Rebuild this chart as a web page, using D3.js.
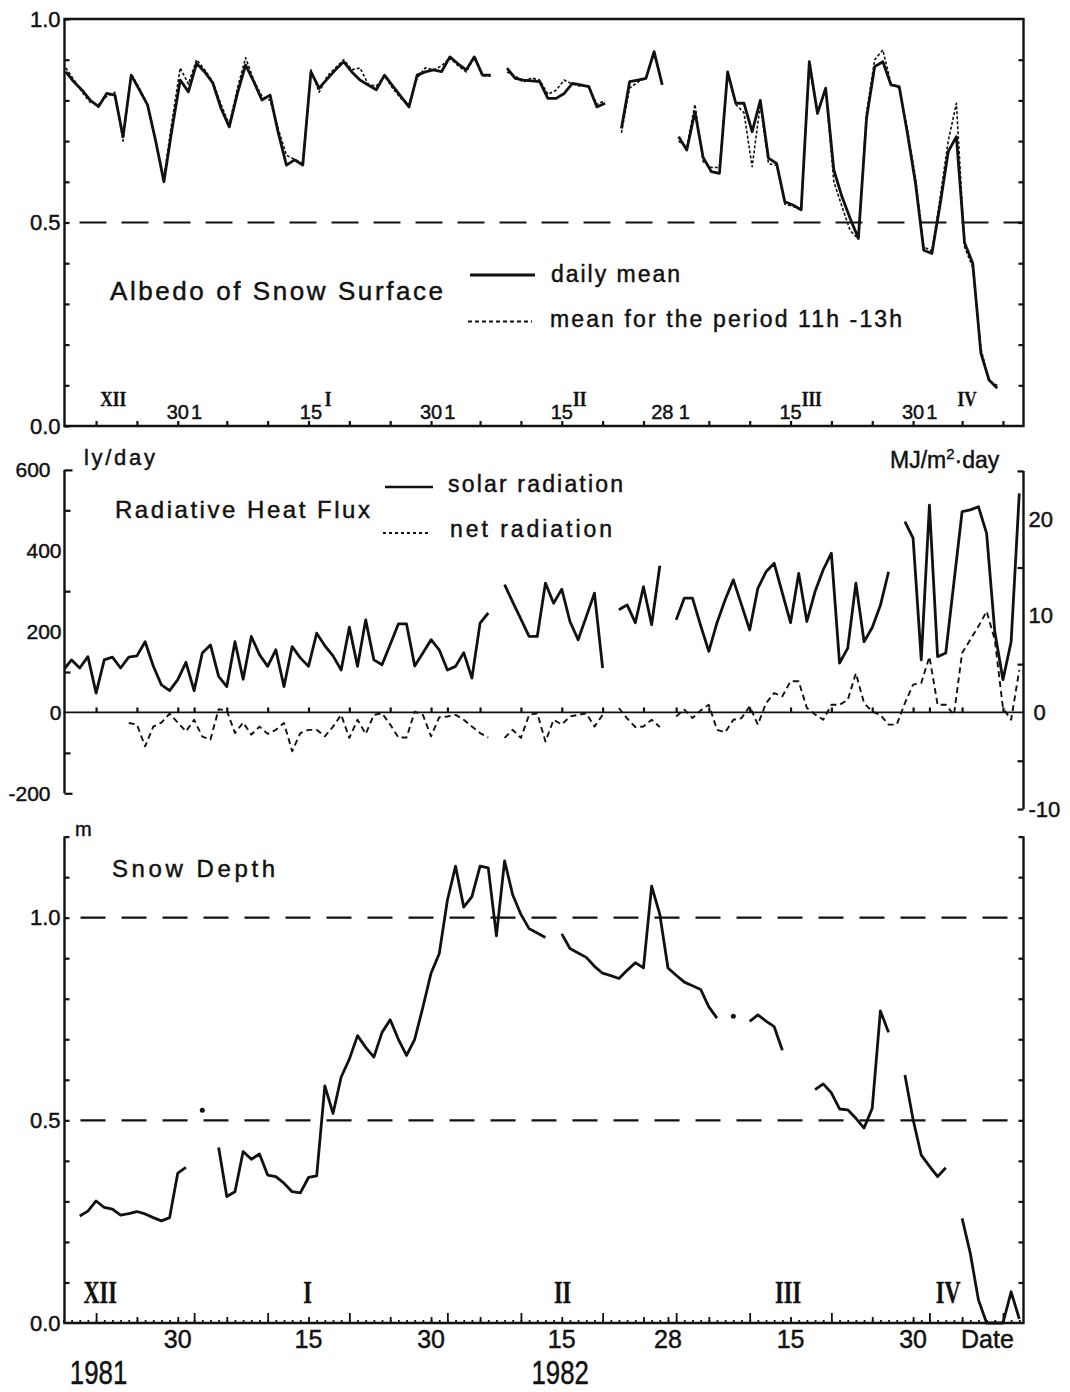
<!DOCTYPE html>
<html>
<head>
<meta charset="utf-8">
<script src="https://cdn.jsdelivr.net/npm/d3@7/dist/d3.min.js"></script>
<style>
  body { margin: 0; background: #fff; }
  svg text { font-family: "Liberation Sans", Arial, sans-serif; fill: #111; stroke: #111; stroke-width: 0.45px; }
  svg text.roman { font-family: "Liberation Serif", serif; font-weight: bold; stroke-width: 0.3px; }
</style>
</head>
<body>
<svg width="1070" height="1392"></svg>
<script>
// day numbers count from 1 Dec 1981 (= day 0); null = no record
var albedoStart = 15;
var albedoDaily = [0.87, 0.845, 0.825, 0.80, 0.785, 0.817, 0.813, 0.711, 0.862,
  0.826, 0.789, 0.70, 0.600, 0.73, 0.850, 0.821, 0.891, 0.87, 0.842,
  0.78, 0.735, 0.817, 0.887, 0.846, 0.801, 0.813, 0.72, 0.641, 0.654,
  0.641, 0.870, 0.83, 0.853, 0.875, 0.895, 0.87, 0.85, 0.838, 0.826,
  0.862, 0.836, 0.81, 0.784, 0.862, 0.87, 0.875, 0.871, 0.907, 0.89,
  0.875, 0.907, 0.862, 0.862, null, 0.879, 0.854, 0.85, 0.848, 0.846,
  0.805, 0.805, 0.817, 0.842, 0.838, 0.834, 0.784, 0.793, null, 0.731,
  0.846, 0.85, 0.854, 0.92, 0.838, null, 0.711, 0.678, 0.772, 0.66,
  0.625, 0.621, 0.87, 0.793, 0.793, 0.723, 0.80, 0.658, 0.645, 0.551,
  0.543, 0.531, 0.895, 0.768, 0.83, 0.629, 0.563, 0.51, 0.461, 0.756,
  0.883, 0.895, 0.838, 0.834, 0.72, 0.596, 0.432, 0.424, 0.543, 0.674,
  0.711, 0.45, 0.40, 0.179, 0.113, 0.093];
var albedoNoon = [0.88, 0.85, 0.82, 0.795, 0.79, 0.81, 0.82, 0.70, 0.865,
  0.83, 0.79, 0.70, 0.61, 0.75, 0.88, 0.84, 0.90, 0.875, 0.845,
  0.79, 0.74, 0.83, 0.905, 0.85, 0.81, 0.80, 0.73, 0.665, 0.655,
  0.645, 0.875, 0.82, 0.86, 0.88, 0.90, 0.875, 0.88, 0.84, 0.835,
  0.86, 0.83, 0.805, 0.79, 0.855, 0.88, 0.875, 0.885, 0.905, 0.885,
  0.87, 0.905, 0.86, 0.86, null, 0.87, 0.86, 0.845, 0.855, 0.85,
  0.815, 0.825, 0.85, 0.84, 0.835, 0.835, 0.79, 0.80, null, 0.72,
  0.83, 0.845, 0.855, 0.915, 0.84, null, 0.70, 0.685, 0.79, 0.65,
  0.635, 0.635, 0.865, 0.79, 0.77, 0.637, 0.79, 0.645, 0.64, 0.545,
  0.54, 0.53, 0.885, 0.77, 0.825, 0.60, 0.539, 0.48, 0.46, 0.77,
  0.90, 0.924, 0.84, 0.83, 0.73, 0.61, 0.44, 0.43, 0.56, 0.70,
  0.793, 0.44, 0.39, 0.19, 0.11, 0.10];

var solarStart = 15;   // ly/day
var solarRad = [105, 130, 110, 138, 48, 130, 137, 110, 137, 140,
  175, 115, 68, 54, 81, 124, 54, 147, 167, 89,
  64, 175, 82, 188, 143, 114, 155, 64, 163, 135,
  114, 196, 165, 140, 105, 211, 114, 229, 130, 118,
  168, 219, 219, 115, 147, 180, 155, 105, 114, 148,
  85, 221, 246, null, 316, 273, 231, 188, 188, 320,
  270, 305, 225, 180, 237, 295, 110, null, 254, 266,
  222, 311, 217, 363, null, 229, 283, 283, 215, 151,
  222, 279, 328, 266, 204, 307, 348, 369, 295, 222,
  344, 225, 299, 353, 394, 122, 159, 320, 175, 210,
  265, 348, null, 472, 431, 130, 513, 138, 147, 322,
  497, 501, 509, 443, 200, 81, 175, 542];
var netStart = 23;
var netRad = [-26, -30, -84, -35, -25, -3, -25, -47, -18, -60,
  -67, 8, 5, -51, -25, -55, -35, -53, -43, -26,
  -96, -51, -43, -43, -59, -35, -6, -63, -18, -53,
  -6, -2, -30, -62, -62, 2, -6, -59, -12, -10,
  -6, -18, -35, -51, -62, null, -63, -43, -63, -6,
  -2, -72, -18, -30, -10, -6, -2, -35, -6, null,
  11, -15, -36, -35, -18, -36, null, -10, 7, -14,
  5, 19, -43, -49, -18, -14, 15, -30, 23, 48,
  40, 77, 77, 11, -5, -18, 19, 19, 31, 97,
  23, 2, -6, -30, -30, 23, 69, 73, 138, 19,
  19, -6, 147, 180, 213, 250, 180, 11, -18, 105];

var depthStart = 17;   // m
var snowDepth = [0.264, 0.276, 0.301, 0.285, 0.281, 0.266, 0.27, 0.275, 0.269, 0.26,
  0.252, 0.26, 0.37, 0.384, null, 0.525, null, 0.433, 0.312, 0.324,
  0.423, 0.404, 0.417, 0.365, 0.361, 0.345, 0.324, 0.321, 0.359, 0.363,
  0.585, 0.517, 0.607, 0.651, 0.709, 0.68, 0.656, 0.717, 0.748, 0.70,
  0.66, 0.70, 0.779, 0.863, 0.911, 1.043, 1.127, 1.026, 1.052, 1.127,
  1.123, 0.955, 1.14, 1.056, 1.008, 0.973, 0.962, 0.951, null, 0.96,
  0.924, 0.913, 0.902, 0.88, 0.863, 0.857, 0.85, 0.87, 0.889, 0.876,
  1.078, 1.008, 0.876, 0.858, 0.841, 0.832, 0.823, 0.78, 0.752, null,
  0.757, null, 0.744, 0.76, 0.745, 0.731, 0.673, null, null, null,
  0.576, 0.59, 0.568, 0.528, 0.526, 0.505, 0.481, 0.53, 0.77, 0.717,
  null, 0.612, 0.502, 0.414, 0.387, 0.361, 0.383, null, 0.258, 0.172,
  0.057, 0.0, 0.0, 0.0, 0.077, 0.01];

// axis labels: [day, text]
var topDayLabels = [[29, "30"], [31.3, "1"], [45.3, "15"], [60, "30"], [62.3, "1"],
  [76, "15"], [88.3, "28"], [91, "1"], [104, "15"], [119, "30"], [121.3, "1"]];
var topMonths = [[21.1, "XII"], [47.4, "I"], [78.2, "II"], [106.6, "III"], [125.6, "IV"]];
var bottomDayLabels = [[29, "30"], [45, "15"], [60, "30"], [76, "15"], [89, "28"], [104, "15"], [119, "30"]];
var bottomMonths = [[19.5, "XII"], [44.9, "I"], [76.1, "II"], [103.7, "III"], [123.3, "IV"]];
var years = [[19.3, "1981"], [75.8, "1982"]];

var LY_TO_MJ = 0.04184;
var ink = "#111";
var svg = d3.select("svg");
var origin = Date.UTC(1981, 11, 1);
function dayDate(t) { return new Date(origin + t * 864e5); }

var x = d3.scaleUtc().domain([dayDate(15), dayDate(132.6)]).range([63.4, 1024.2]);
var left = 64.5, right = 1023.5;

var yA = d3.scaleLinear().domain([0, 1]).range([426, 19]);
var yR = d3.scaleLinear().domain([-200, 600]).range([793.3, 469.9]);
var yMJ = d3.scaleLinear().domain([-200 * LY_TO_MJ, 600 * LY_TO_MJ]).range([793.3, 469.9]);
var yD = d3.scaleLinear().domain([0, 1.2]).range([1323, 836.6]);

var allDays = d3.utcDay.range(dayDate(15), dayDate(133));
var fiveDays = allDays.filter(function(d) { var m = d.getUTCDate(); return m % 5 === 0; });
var midTicks = allDays.filter(function(d) { var m = d.getUTCDate(); return m % 5 === 0 || m === 1; });

function clean(g) {
  g.select(".domain").remove();
  g.selectAll("line").attr("stroke", ink).attr("stroke-width", 2.2);
  g.attr("font-family", null);
  return g;
}

function series(g, start, values, y, shift, width, dash) {
  var pts = values.map(function(v, i) { return {t: start + i + shift, v: v}; });
  var line = d3.line()
    .defined(function(d) { return d.v !== null; })
    .x(function(d) { return x(dayDate(d.t)); })
    .y(function(d) { return y(d.v); });
  var p = g.append("path").datum(pts).attr("d", line)
    .attr("fill", "none").attr("stroke", ink).attr("stroke-width", width)
    .attr("stroke-linejoin", "round");
  if (dash) p.attr("stroke-dasharray", dash);
  // single readings without neighbours show up as dots
  var lone = pts.filter(function(d, i) {
    return d.v !== null && (!pts[i - 1] || pts[i - 1].v === null) && (!pts[i + 1] || pts[i + 1].v === null);
  });
  g.selectAll(null).data(lone).enter().append("circle")
    .attr("cx", function(d) { return x(dayDate(d.t)); })
    .attr("cy", function(d) { return y(d.v); })
    .attr("r", 2.5).attr("fill", ink);
}

function addText(g, txt, px, py, size, len) {
  var t = g.append("text").attr("x", px).attr("y", py).attr("font-size", size).text(txt);
  if (len) t.attr("textLength", len).attr("lengthAdjust", "spacing");
  return t;
}

function clipRect(id, y0, y1) {
  svg.append("clipPath").attr("id", id).append("rect")
    .attr("x", left).attr("y", y0).attr("width", right - left).attr("height", y1 - y0);
}
clipRect("clipA", yA(1) - 10, yA(0));
clipRect("clipR", 440, 830);
clipRect("clipD", yD(1.2) - 10, yD(0) + 2);

// ---------- albedo ----------
var gA = svg.append("g");
gA.append("path")
  .attr("d", "M" + left + "," + yA(1) + "H" + right + "V" + yA(0) + "H" + left + "Z")
  .attr("fill", "none").attr("stroke", ink).attr("stroke-width", 2.4);
gA.append("line").attr("x1", left).attr("x2", right).attr("y1", yA(0.5)).attr("y2", yA(0.5))
  .attr("stroke", ink).attr("stroke-width", 2.2).attr("stroke-dasharray", "27,15").attr("stroke-dashoffset", 27);

clean(gA.append("g").attr("transform", "translate(" + left + ",0)")
  .call(d3.axisLeft(yA).tickValues(d3.range(0, 1.01, 0.1)).tickSizeInner(-5).tickSizeOuter(0).tickFormat("")));
clean(gA.append("g").attr("transform", "translate(" + right + ",0)")
  .call(d3.axisRight(yA).tickValues(d3.range(0.1, 1, 0.1)).tickSizeInner(-5).tickSizeOuter(0).tickFormat("")));
clean(gA.append("g").attr("transform", "translate(" + (left - 1) + ",0)")
  .call(d3.axisLeft(yA).tickValues([0, 0.5, 1]).tickSize(0).tickPadding(3).tickFormat(d3.format(".1f"))))
  .attr("font-size", 22);
clean(gA.append("g").attr("transform", "translate(0," + yA(0) + ")")
  .call(d3.axisBottom(x).tickValues(fiveDays).tickSizeInner(-5).tickSizeOuter(0).tickFormat("")));

gA.selectAll(".dlab").data(topDayLabels).enter().append("text")
  .attr("x", function(d) { return x(dayDate(d[0])); }).attr("y", 419)
  .attr("text-anchor", "middle").attr("font-size", 20).text(function(d) { return d[1]; });
gA.selectAll(".mlab").data(topMonths).enter().append("text").attr("class", "roman")
  .attr("transform", function(d) { return "translate(" + x(dayDate(d[0])) + ",406) scale(0.82,1)"; })
  .attr("text-anchor", "middle").attr("font-size", 21).text(function(d) { return d[1]; });

var gAl = gA.append("g").attr("clip-path", "url(#clipA)");
series(gAl, albedoStart, albedoNoon, yA, 0.3, 1.6, "3,2");
series(gAl, albedoStart, albedoDaily, yA, 0.3, 2.8);

addText(gA, "Albedo of Snow Surface", 110, 300, 26, 333);
gA.append("line").attr("x1", 470).attr("x2", 535).attr("y1", 275).attr("y2", 275)
  .attr("stroke", ink).attr("stroke-width", 2.8);
addText(gA, "daily mean", 551, 282, 23, 129);
gA.append("line").attr("x1", 468).attr("x2", 532).attr("y1", 321.5).attr("y2", 321.5)
  .attr("stroke", ink).attr("stroke-width", 1.8).attr("stroke-dasharray", "4,3");
addText(gA, "mean for the period  11h -13h", 550, 327, 23, 352);

// ---------- radiation ----------
var gR = svg.append("g");
gR.append("line").attr("x1", left).attr("x2", left).attr("y1", yR(600)).attr("y2", yR(-200))
  .attr("stroke", ink).attr("stroke-width", 2.4);
gR.append("line").attr("x1", right).attr("x2", right).attr("y1", yMJ(25)).attr("y2", yMJ(-10))
  .attr("stroke", ink).attr("stroke-width", 2.4);
gR.append("line").attr("x1", left).attr("x2", right).attr("y1", yR(0)).attr("y2", yR(0))
  .attr("stroke", ink).attr("stroke-width", 1.8);

clean(gR.append("g").attr("transform", "translate(" + left + ",0)")
  .call(d3.axisLeft(yR).tickValues([500, 300, 100, -100]).tickSizeInner(-6).tickSizeOuter(0).tickFormat("")));
clean(gR.append("g").attr("transform", "translate(" + left + ",0)")
  .call(d3.axisLeft(yR).tickValues([600, -200]).tickSizeInner(-8).tickSizeOuter(0).tickPadding(14).tickFormat(d3.format("d"))))
  .attr("font-size", 21);
clean(gR.append("g").attr("transform", "translate(" + (left - 2) + ",0)")
  .call(d3.axisLeft(yR).tickValues([400, 200, 0]).tickSize(0).tickPadding(1).tickFormat(d3.format("d"))))
  .attr("font-size", 21);
gR.selectAll("text").text(function() { return this.textContent.replace("\u2212", "-"); });

clean(gR.append("g").attr("transform", "translate(" + right + ",0)")
  .call(d3.axisRight(yMJ).tickValues([25, 15, 5, -5, -10]).tickSizeInner(-6).tickSizeOuter(0).tickFormat("")));
var gRR = clean(gR.append("g").attr("transform", "translate(" + right + ",0)")
  .call(d3.axisRight(yMJ).tickValues([20, 10, 0, -10]).tickSize(0).tickPadding(5)
    .tickFormat(function(d) { return String(d); })))
  .attr("font-size", 22);
gRR.selectAll("text").filter(function(d) { return d === 0; }).attr("x", 10);

clean(gR.append("g").attr("transform", "translate(0," + yR(0) + ")")
  .call(d3.axisBottom(x).tickValues(midTicks).tickSizeInner(-5).tickSizeOuter(0).tickFormat("")));

var gRl = gR.append("g").attr("clip-path", "url(#clipR)");
series(gRl, netStart, netRad, yR, 0, 1.9, "6,4");
series(gRl, solarStart, solarRad, yR, 0, 2.8);

addText(gR, "ly/day", 84, 465, 22, 71);
addText(gR, "Radiative Heat Flux", 115, 518, 24, 255);
gR.append("line").attr("x1", 385).attr("x2", 433).attr("y1", 487).attr("y2", 487)
  .attr("stroke", ink).attr("stroke-width", 2.4);
addText(gR, "solar radiation", 448, 492, 23, 175);
gR.append("line").attr("x1", 383).attr("x2", 430).attr("y1", 533).attr("y2", 533)
  .attr("stroke", ink).attr("stroke-width", 1.8).attr("stroke-dasharray", "3,3");
addText(gR, "net radiation", 450, 537, 23, 162);
var mj = gR.append("text").attr("x", 890).attr("y", 468).attr("font-size", 23);
mj.append("tspan").text("MJ/m");
mj.append("tspan").attr("dy", -9).attr("font-size", 15).text("2");
mj.append("tspan").attr("dy", 9).text("\u00B7day");

// ---------- snow depth ----------
var gD = svg.append("g");
gD.append("path")
  .attr("d", "M" + left + "," + yD(1.2) + "V" + yD(0) + "H" + right + "V" + yD(1.2))
  .attr("fill", "none").attr("stroke", ink).attr("stroke-width", 2.4);
[1.0, 0.5].forEach(function(v) {
  gD.append("line").attr("x1", left).attr("x2", right).attr("y1", yD(v)).attr("y2", yD(v))
    .attr("stroke", ink).attr("stroke-width", 2.2).attr("stroke-dasharray", "25,16").attr("stroke-dashoffset", 25);
});
clean(gD.append("g").attr("transform", "translate(" + left + ",0)")
  .call(d3.axisLeft(yD).tickValues(d3.range(0.1, 1.21, 0.1)).tickSizeInner(-5).tickSizeOuter(0).tickFormat("")));
clean(gD.append("g").attr("transform", "translate(" + right + ",0)")
  .call(d3.axisRight(yD).tickValues(d3.range(0.1, 1.21, 0.1)).tickSizeInner(-5).tickSizeOuter(0).tickFormat("")));
clean(gD.append("g").attr("transform", "translate(" + (left - 1) + ",0)")
  .call(d3.axisLeft(yD).tickValues([0, 0.5, 1]).tickSize(0).tickPadding(3).tickFormat(d3.format(".1f"))))
  .attr("font-size", 22);

var dekads = allDays.filter(function(d) { var m = d.getUTCDate(); return m === 1 || m === 10 || m === 20; });
var pentads = allDays.filter(function(d) {
  var m = d.getUTCDate();
  return (m % 5 === 0 && m !== 10 && m !== 20) || (d.getUTCMonth() === 1 && m === 28);
});
[[allDays, 3], [pentads, 6], [dekads, 10]].forEach(function(s) {
  clean(gD.append("g").attr("transform", "translate(0," + yD(0) + ")")
    .call(d3.axisBottom(x).tickValues(s[0]).tickSizeInner(-s[1]).tickSizeOuter(0).tickFormat("")))
    .selectAll("line").attr("stroke-width", 1.8);
});

gD.selectAll(".dlab").data(bottomDayLabels).enter().append("text")
  .attr("x", function(d) { return x(dayDate(d[0])); }).attr("y", 1348)
  .attr("text-anchor", "middle").attr("font-size", 25).text(function(d) { return d[1]; });
gD.selectAll(".mlab").data(bottomMonths).enter().append("text").attr("class", "roman")
  .attr("transform", function(d) { return "translate(" + x(dayDate(d[0])) + ",1303) scale(0.72,1)"; })
  .attr("text-anchor", "middle").attr("font-size", 31).text(function(d) { return d[1]; });
gD.selectAll(".ylab").data(years).enter().append("text")
  .attr("transform", function(d) { return "translate(" + x(dayDate(d[0])) + ",1384) scale(0.76,1)"; })
  .attr("text-anchor", "middle").attr("font-size", 34).text(function(d) { return d[1]; });
gD.append("text").attr("x", x(dayDate(128.1))).attr("y", 1348).attr("text-anchor", "middle")
  .attr("font-size", 25).text("Date");

var gDl = gD.append("g").attr("clip-path", "url(#clipD)");
series(gDl, depthStart, snowDepth, yD, 0, 2.8);

addText(gD, "m", 75, 836, 20);
addText(gD, "Snow Depth", 112, 877, 24, 163);
</script>
</body>
</html>
